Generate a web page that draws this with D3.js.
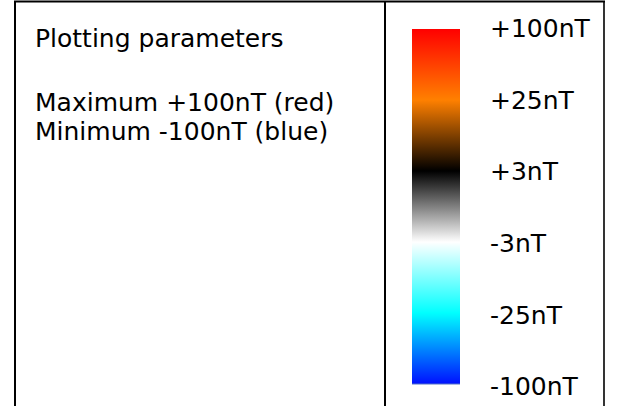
<!DOCTYPE html>
<html>
<head>
<meta charset="utf-8">
<script src="https://cdn.jsdelivr.net/npm/d3@7"></script>
<style>
  body { margin: 0; background: #ffffff; }
</style>
</head>
<body>
<div id="chart"></div>
<script>
// legend of the colour bar, top to bottom
const scaleLabels = ['+100nT', '+25nT', '+3nT', '-3nT', '-25nT', '-100nT'];
const scaleValues = [100, 25, 3, -3, -25, -100];
const scaleColors = ['#ff0000', '#ff8000', '#000000', '#ffffff', '#00ffff', '#0010ff'];

const titleText = 'Plotting parameters';
const paramLines = ['Maximum +100nT (red)', 'Minimum -100nT (blue)'];

const width = 627;
const height = 406;
const fontSize = 25;

const svg = d3.select('#chart')
  .append('svg')
  .attr('width', width)
  .attr('height', height)
  .style('font-family', '"DejaVu Sans", Verdana, sans-serif')
  .style('font-size', fontSize + 'px');

// table frame (no bottom edge, it runs off the picture)
const frame = {left: 15, mid: 385, right: 604, top: 1.5};

svg.append('line')
  .attr('x1', frame.left - 1).attr('x2', frame.right + 1)
  .attr('y1', frame.top).attr('y2', frame.top)
  .attr('stroke', '#000').attr('stroke-width', 2);

[[frame.left, 2], [frame.mid, 2], [frame.right, 1.6]].forEach(([x, w]) => {
  svg.append('line')
    .attr('x1', x).attr('x2', x)
    .attr('y1', frame.top).attr('y2', height)
    .attr('stroke', '#000').attr('stroke-width', w);
});

// left cell text
svg.append('text')
  .attr('x', 35)
  .attr('y', 47)
  .attr('fill', '#000')
  .text(titleText);

svg.selectAll('.param')
  .data(paramLines)
  .enter()
  .append('text')
  .attr('class', 'param')
  .attr('x', 35)
  .attr('y', (d, i) => 111 + i * 28.5)
  .attr('fill', '#000')
  .text(d => d);

// colour bar
const bar = {x: 412, y: 29, w: 48, h: 355};

const offset = d3.scalePoint()
  .domain(scaleValues)
  .range([0, 1]);

const color = d3.scaleLinear()
  .domain(scaleValues)
  .range(scaleColors);

const grad = svg.append('defs')
  .append('linearGradient')
  .attr('id', 'bar-grad')
  .attr('x1', 0).attr('x2', 0)
  .attr('y1', 0).attr('y2', 1);

grad.selectAll('stop')
  .data(scaleValues)
  .enter()
  .append('stop')
  .attr('offset', d => offset(d))
  .attr('stop-color', d => color(d));

svg.append('rect')
  .attr('x', bar.x)
  .attr('y', bar.y)
  .attr('width', bar.w)
  .attr('height', bar.h)
  .attr('fill', 'url(#bar-grad)');

// thin edge under the bar
svg.append('line')
  .attr('x1', bar.x).attr('x2', bar.x + bar.w)
  .attr('y1', bar.y + bar.h).attr('y2', bar.y + bar.h)
  .attr('stroke', '#5070c8').attr('stroke-width', 1);

// labels beside the bar
const labelY = d3.scalePoint()
  .domain(scaleLabels)
  .range([28, 386]);

svg.selectAll('.scale-label')
  .data(scaleLabels)
  .enter()
  .append('text')
  .attr('class', 'scale-label')
  .attr('x', 490)
  .attr('y', d => labelY(d))
  .attr('dy', '0.37em')
  .attr('fill', '#000')
  .text(d => d);
</script>
</body>
</html>
